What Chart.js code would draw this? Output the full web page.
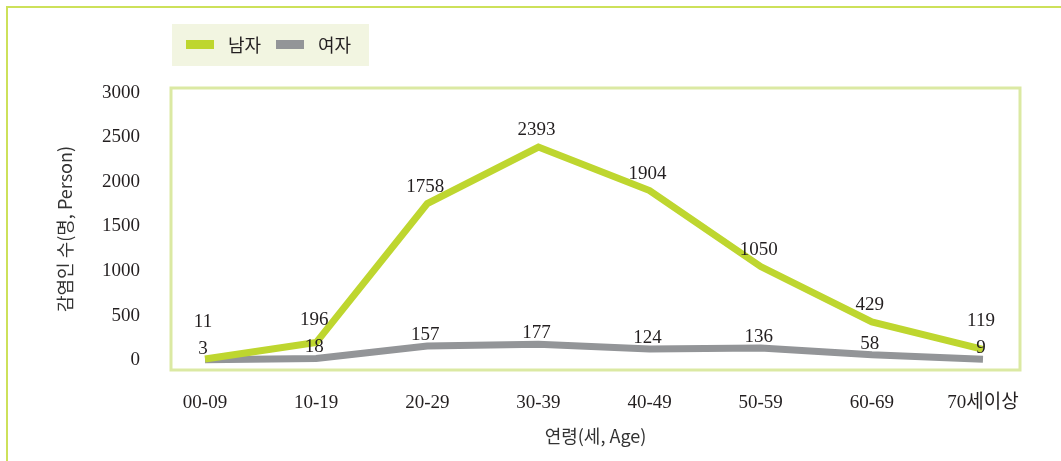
<!DOCTYPE html>
<html>
<head>
<meta charset="utf-8">
<script src="https://cdn.jsdelivr.net/npm/chart.js@4"></script>
<style>
  body { margin: 0; background: #fff; }
  #wrap { width: 1061px; height: 461px; }
</style>
</head>
<body>
<div id="wrap"><canvas id="ageChart" width="1061" height="461"></canvas></div>
<script>
// data
const ageGroups = ["00-09", "10-19", "20-29", "30-39", "40-49", "50-59", "60-69", "70세이상"];
const maleCounts = [11, 196, 1758, 2393, 1904, 1050, 429, 119];
const femaleCounts = [3, 18, 157, 177, 124, 136, 58, 9];
const yTicks = [0, 500, 1000, 1500, 2000, 2500, 3000];

const serif = "'Liberation Serif', 'Noto Sans CJK KR', serif";
const sans = "'Noto Sans CJK KR', 'Noto Sans', sans-serif";

const GREEN = "#bed62f";
const GRAY = "#939598";

// frame, plot border and legend
const framePlugin = {
  id: "frame",
  beforeDraw(chart) {
    const c = chart.ctx;
    c.save();
    c.strokeStyle = "#cde15a";
    c.lineWidth = 2;
    c.strokeRect(7, 7, 1070, 470);
    c.restore();
  },
  afterDatasetsDraw(chart) {
    const c = chart.ctx;
    const a = chart.chartArea;
    c.save();
    c.strokeStyle = "#dbe9a3";
    c.lineWidth = 3;
    c.strokeRect(a.left, a.top, a.right - a.left, a.bottom - a.top);
    c.restore();
  },
  afterDraw(chart) {
    const c = chart.ctx;
    c.save();
    // legend box
    c.fillStyle = "#f2f5e1";
    c.fillRect(172, 24, 197, 42);
    c.font = "18px " + sans;
    c.textBaseline = "middle";
    c.textAlign = "left";
    let x = 186;
    chart.data.datasets.forEach(ds => {
      c.fillStyle = ds.borderColor;
      c.fillRect(x, 40, 28, 9);
      c.fillStyle = "#231f20";
      c.fillText(ds.label, x + 42, 45);
      x += 90;
    });
    c.restore();
  }
};

// value labels above the points
const valueLabels = {
  id: "valueLabels",
  afterDatasetsDraw(chart) {
    const c = chart.ctx;
    const male = chart.getDatasetMeta(0).data;
    const female = chart.getDatasetMeta(1).data;
    c.save();
    c.font = "19px " + serif;
    c.fillStyle = "#231f20";
    c.textAlign = "center";
    c.textBaseline = "middle";
    female.forEach((pt, i) => {
      const fy = pt.y - 11;
      let my = male[i].y - 17;
      if (fy - my < 27) my = fy - 27;
      c.fillText(String(femaleCounts[i]), pt.x - 2, fy);
      c.fillText(String(maleCounts[i]), male[i].x - 2, my);
    });
    c.restore();
  }
};

new Chart(document.getElementById("ageChart"), {
  type: "line",
  data: {
    datasets: [
      {
        label: "남자",
        data: maleCounts.map((v, i) => ({ x: i, y: v })),
        borderColor: GREEN,
        backgroundColor: GREEN,
        borderWidth: 7,
        borderCapStyle: "butt",
        borderJoinStyle: "miter",
        pointRadius: 0,
        tension: 0
      },
      {
        label: "여자",
        data: femaleCounts.map((v, i) => ({ x: i, y: v })),
        borderColor: GRAY,
        backgroundColor: GRAY,
        borderWidth: 7,
        borderCapStyle: "butt",
        borderJoinStyle: "miter",
        pointRadius: 0,
        tension: 0
      }
    ]
  },
  options: {
    responsive: false,
    animation: false,
    events: [],
    layout: { padding: { top: 88, right: 41, left: 0, bottom: 0 } },
    plugins: {
      legend: { display: false },
      tooltip: { enabled: false }
    },
    scales: {
      x: {
        type: "linear",
        min: -0.306,
        max: 7.333,
        grid: { display: false },
        border: { display: false },
        afterBuildTicks: s => { s.ticks = ageGroups.map((g, i) => ({ value: i })); },
        afterFit: s => { s.height = 91; },
        ticks: {
          padding: 14,
          color: "#231f20",
          font: { family: serif, size: 19 },
          callback: v => ageGroups[v]
        },
        title: {
          display: true,
          text: "연령(세, Age)",
          color: "#333",
          font: { family: sans, size: 18 },
          padding: { top: 0, bottom: 14 }
        }
      },
      y: {
        min: -112,
        max: 3056,
        grid: { display: false },
        border: { display: false },
        afterBuildTicks: s => { s.ticks = yTicks.map(v => ({ value: v })); },
        afterFit: s => { s.width = 171; },
        ticks: {
          padding: 23,
          color: "#231f20",
          font: { family: serif, size: 19 },
          callback: v => String(v)
        },
        title: {
          display: true,
          text: "감염인 수(명, Person)",
          color: "#333",
          font: { family: sans, size: 18 },
          padding: { top: 54, bottom: 0 }
        }
      }
    }
  },
  plugins: [framePlugin, valueLabels]
});
</script>
</body>
</html>
